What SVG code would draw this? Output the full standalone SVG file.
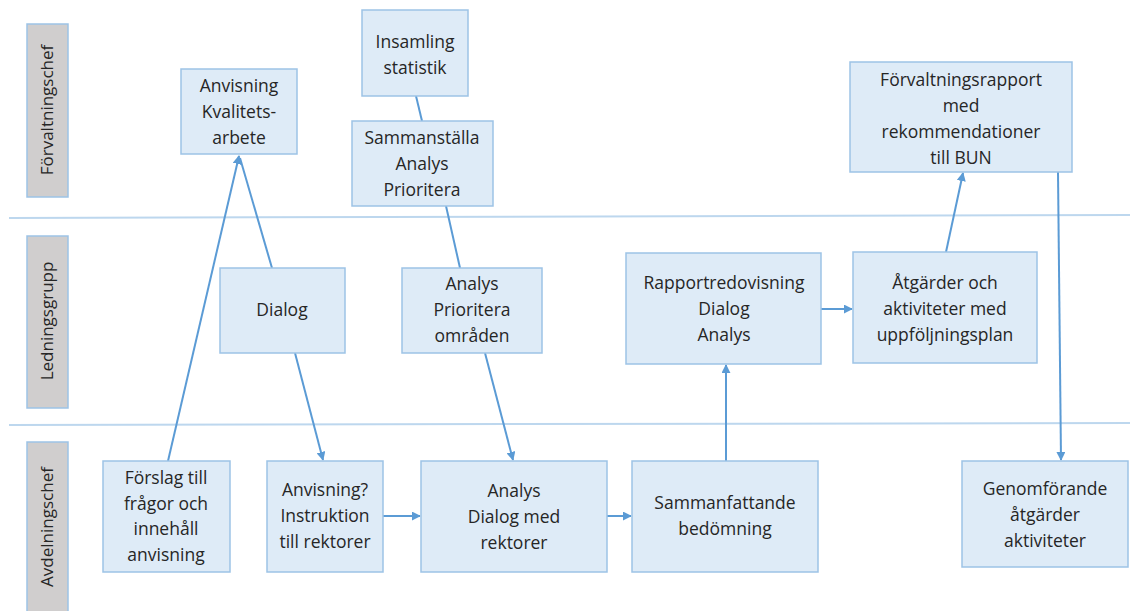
<svg xmlns="http://www.w3.org/2000/svg" width="1130" height="611" viewBox="0 0 1130 611">
<style>
.lane{fill:#d0cece;stroke:#9dc3e6;stroke-width:1.5}
.lt{font-family:"Open Sans","Liberation Sans",sans-serif;font-size:17px;fill:#262626;text-anchor:middle}
.box{fill:#deebf7;stroke:#9dc3e6;stroke-width:1.5}
.t{font-family:"Open Sans","Liberation Sans",sans-serif;font-size:17.5px;fill:#262626;text-anchor:middle}
.sep{stroke:#bdd7ee;stroke-width:2;fill:none}
.c{stroke:#5b9bd5;stroke-width:2;fill:none}
.a{marker-end:url(#ah)}
</style>
<defs>
<marker id="ah" viewBox="0 0 10 10" refX="9" refY="5" markerWidth="4.5" markerHeight="4.5" orient="auto" markerUnits="strokeWidth">
<path d="M0,0 L10,5 L0,10 z" fill="#5b9bd5"/>
</marker>
</defs>
<rect width="1130" height="611" fill="#ffffff"/>
<g id="lanes">
<line class="sep" x1="9" y1="218" x2="1130" y2="215"/>
<line class="sep" x1="9" y1="425" x2="1130" y2="423"/>
<g id="lane-forvaltningschef"><rect class="lane" x="27" y="24" width="41" height="173"/><text class="lt" transform="translate(53,110) rotate(-90)">Förvaltningschef</text></g>
<g id="lane-ledningsgrupp"><rect class="lane" x="27" y="236" width="41" height="172"/><text class="lt" transform="translate(53,321) rotate(-90)">Ledningsgrupp</text></g>
<g id="lane-avdelningschef"><rect class="lane" x="27" y="442" width="41" height="175"/><text class="lt" transform="translate(53,527) rotate(-90)">Avdelningschef</text></g>
</g>
<g id="connectors">
<line class="c a" x1="168" y1="461" x2="239" y2="156"/>
<line class="c" x1="272" y1="268" x2="240" y2="158"/>
<line class="c a" x1="295" y1="353" x2="323" y2="460"/>
<line class="c a" x1="383" y1="516" x2="420" y2="516"/>
<line class="c a" x1="607" y1="516" x2="631" y2="516"/>
<line class="c a" x1="726" y1="461" x2="726" y2="365"/>
<line class="c a" x1="821" y1="309" x2="852" y2="309"/>
<line class="c a" x1="946" y1="252" x2="963" y2="173"/>
<line class="c a" x1="1058" y1="172" x2="1061" y2="460"/>
<line class="c" x1="416" y1="96" x2="422" y2="121"/>
<line class="c" x1="446" y1="206" x2="460" y2="268"/>
<line class="c a" x1="485" y1="353" x2="513" y2="460"/>
</g>
<g id="n-anvisning-kvalitet"><rect class="box" x="181" y="69" width="116" height="85"/><text class="t" x="239" y="92"><tspan x="239">Anvisning</tspan><tspan x="239" dy="26">Kvalitets-</tspan><tspan x="239" dy="26">arbete</tspan></text></g>
<g id="n-insamling"><rect class="box" x="362" y="10" width="106" height="86"/><text class="t" x="415" y="48"><tspan x="415">Insamling</tspan><tspan x="415" dy="26">statistik</tspan></text></g>
<g id="n-sammanstalla"><rect class="box" x="352" y="121" width="141" height="85"/><text class="t" x="422" y="144"><tspan x="422">Sammanställa</tspan><tspan x="422" dy="26">Analys</tspan><tspan x="422" dy="26">Prioritera</tspan></text></g>
<g id="n-forvaltningsrapport"><rect class="box" x="850" y="62" width="222" height="110"/><text class="t" x="961" y="86"><tspan x="961">Förvaltningsrapport</tspan><tspan x="961" dy="26">med</tspan><tspan x="961" dy="26">rekommendationer</tspan><tspan x="961" dy="26">till BUN</tspan></text></g>
<g id="n-dialog"><rect class="box" x="220" y="268" width="125" height="85"/><text class="t" x="282" y="316">Dialog</text></g>
<g id="n-analys-prioritera"><rect class="box" x="402" y="268" width="140" height="85"/><text class="t" x="472" y="290"><tspan x="472">Analys</tspan><tspan x="472" dy="26">Prioritera</tspan><tspan x="472" dy="26">områden</tspan></text></g>
<g id="n-rapportredovisning"><rect class="box" x="626" y="253" width="195" height="111"/><text class="t" x="724" y="289"><tspan x="724">Rapportredovisning</tspan><tspan x="724" dy="26">Dialog</tspan><tspan x="724" dy="26">Analys</tspan></text></g>
<g id="n-atgarder"><rect class="box" x="853" y="252" width="184" height="111"/><text class="t" x="945" y="289"><tspan x="945">Åtgärder och</tspan><tspan x="945" dy="26">aktiviteter med</tspan><tspan x="945" dy="26">uppföljningsplan</tspan></text></g>
<g id="n-forslag"><rect class="box" x="103" y="461" width="127" height="111"/><text class="t" x="166" y="484"><tspan x="166">Förslag till</tspan><tspan x="166" dy="25.7">frågor och</tspan><tspan x="166" dy="25.7">innehåll</tspan><tspan x="166" dy="25.7">anvisning</tspan></text></g>
<g id="n-anvisning-instruktion"><rect class="box" x="267" y="461" width="116" height="111"/><text class="t" x="325" y="496"><tspan x="325">Anvisning?</tspan><tspan x="325" dy="26">Instruktion</tspan><tspan x="325" dy="26">till rektorer</tspan></text></g>
<g id="n-analys-dialog"><rect class="box" x="421" y="461" width="186" height="111"/><text class="t" x="514" y="497"><tspan x="514">Analys</tspan><tspan x="514" dy="26">Dialog med</tspan><tspan x="514" dy="26">rektorer</tspan></text></g>
<g id="n-sammanfattande"><rect class="box" x="632" y="461" width="186" height="111"/><text class="t" x="725" y="509"><tspan x="725">Sammanfattande</tspan><tspan x="725" dy="26">bedömning</tspan></text></g>
<g id="n-genomforande"><rect class="box" x="962" y="461" width="166" height="106"/><text class="t" x="1045" y="495"><tspan x="1045">Genomförande</tspan><tspan x="1045" dy="26">åtgärder</tspan><tspan x="1045" dy="26">aktiviteter</tspan></text></g>
</svg>
